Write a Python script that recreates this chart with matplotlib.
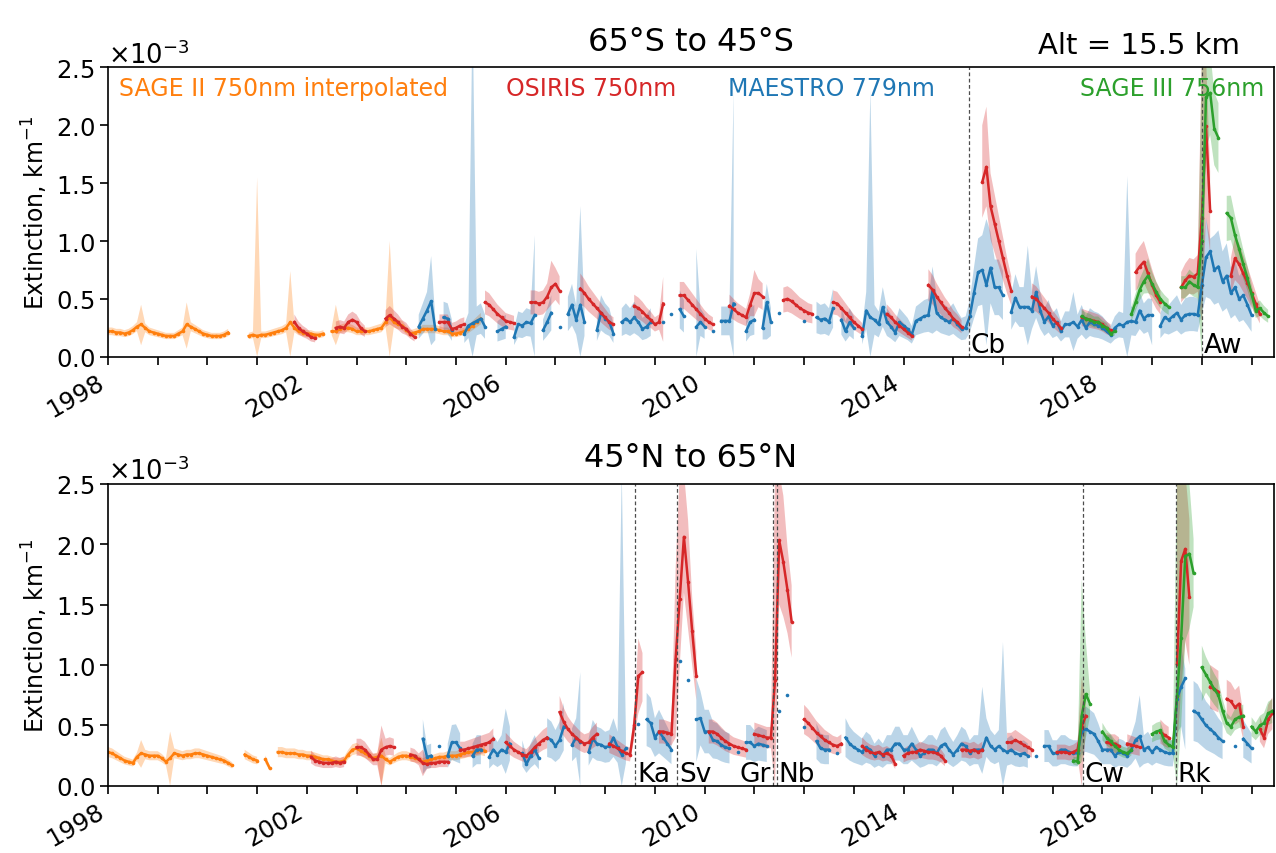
import numpy as np
import matplotlib
matplotlib.use("Agg")
import matplotlib.pyplot as plt
import matplotlib.transforms as mtransforms

nan = np.nan

# ---------------- 65S to 45S (values in 1e-3 km^-1, monthly, one row per year) ----------------
sage2_S_start = 1998
sage2_S = [
    0.22, 0.22, 0.21, 0.21, 0.20, 0.21, 0.23, 0.26, 0.28, 0.25, 0.22, 0.21,
    0.20, 0.19, 0.18, 0.18, 0.18, 0.20, 0.22, 0.28, 0.26, 0.24, 0.22, 0.20,
    0.19, 0.18, 0.18, 0.18, 0.19, 0.21, nan, nan, nan, nan, 0.18, 0.19,
    0.18, 0.19, 0.19, 0.20, 0.21, 0.22, 0.23, 0.25, 0.30, 0.25, 0.22, 0.21,
    0.20, 0.20, 0.19, 0.19, 0.20, nan, 0.22, 0.22, 0.24, 0.25, 0.25, 0.24,
    0.22, 0.22, 0.22, 0.22, 0.23, 0.24, 0.25, 0.30, 0.34, 0.30, 0.28, 0.27,
    0.23, 0.20, 0.21, 0.22, 0.24, 0.24, 0.24, 0.24, 0.23, 0.22, 0.22, 0.20,
    0.20, 0.21, 0.22, 0.24, 0.27, 0.30, 0.33,
]
sage2_S_spikes = {'1998-09': (0.10, 0.45), '1999-08': (0.07, 0.47), '2001-01': (0.0, 1.55),
                  '2001-09': (0.0, 0.74), '2002-08': (0.10, 0.45), '2003-09': (0.0, 1.0)}

osiris_S_start = 2001
osiris_S = [
    nan, nan, nan, nan, nan, nan, nan, nan, nan, 0.30, 0.25, 0.22,
    0.20, 0.17, 0.16, nan, nan, nan, nan, 0.25, 0.26, 0.25, 0.30, 0.32,
    0.30, 0.25, 0.22, nan, nan, nan, nan, 0.33, 0.36, 0.33, 0.30, 0.26,
    0.24, 0.20, 0.17, nan, nan, nan, nan, nan, 0.30, 0.30, 0.30, 0.24,
    0.25, 0.27, 0.28, nan, nan, nan, nan, 0.47, 0.45, 0.41, 0.37, 0.34,
    0.31, 0.30, 0.29, nan, nan, nan, 0.47, 0.47, 0.46, 0.47, 0.52, 0.60,
    0.63, 0.57, nan, nan, nan, nan, 0.59, 0.55, 0.50, 0.46, 0.42, 0.38,
    0.34, 0.30, 0.28, nan, nan, nan, nan, 0.44, 0.42, 0.39, 0.35, 0.32,
    0.28, 0.30, 0.46, nan, nan, nan, 0.53, 0.53, 0.49, 0.45, 0.41, 0.37,
    0.33, 0.30, 0.28, nan, nan, nan, 0.44, 0.41, 0.38, 0.36, 0.34, 0.45,
    0.55, 0.55, 0.52, nan, nan, nan, nan, 0.49, 0.50, 0.48, 0.45, 0.42,
    0.40, 0.38, 0.37, nan, nan, nan, nan, 0.47, 0.46, 0.42, 0.38, 0.34,
    0.30, 0.27, 0.24, nan, nan, nan, nan, nan, 0.37, 0.34, 0.30, 0.27,
    0.24, 0.21, 0.18, nan, nan, nan, 0.62, 0.58, 0.52, 0.47, 0.42, 0.38,
    0.33, 0.30, 0.26, nan, nan, nan, nan, 1.51, 1.64, 1.30, 1.15, 1.00,
    0.85, 0.70, 0.57, nan, nan, nan, nan, 0.52, 0.50, 0.46, 0.42, 0.38,
    0.33, 0.29, 0.25, nan, nan, nan, nan, 0.34, 0.33, 0.32, 0.31, 0.30,
    0.28, 0.25, 0.23, nan, nan, nan, nan, nan, 0.73, 0.78, 0.82, 0.72,
    0.62, 0.53, 0.47, nan, nan, nan, nan, 0.60, 0.66, 0.70, 0.69, 0.72,
    1.20, 1.99, 1.26, nan, nan, nan, nan, 0.70, 0.85, 0.80, 0.72, 0.64,
    0.55, 0.46, 0.37,
]
osiris_S_spikes = {'2006-12': (0.45, 0.83), '2009-03': (0.13, 0.69), '2011-01': (0.35, 0.75),
                   '2015-08': (1.2, 2.0), '2015-09': (1.3, 2.16), '2020-01': (0.3, 2.6),
                   '2020-02': (1.2, 2.6), '2020-03': (0.9, 1.6)}

maestro_S_start = 2004
maestro_S = [
    nan, nan, nan, 0.26, 0.33, 0.40, 0.48, 0.24, nan, 0.34, 0.33, 0.23,
    nan, nan, 0.20, 0.27, 0.29, 0.31, 0.33, 0.26, nan, nan, 0.22, 0.24,
    0.26, nan, 0.17, 0.28, 0.27, 0.30, 0.29, 0.36, nan, 0.23, 0.30, 0.38,
    nan, 0.26, nan, 0.37, 0.45, 0.32, 0.45, 0.30, nan, nan, 0.23, 0.38,
    0.33, 0.30, 0.20, nan, 0.30, 0.33, 0.30, 0.34, 0.30, 0.24, 0.26, 0.30,
    nan, nan, 0.30, nan, 0.37, nan, 0.41, 0.35, nan, nan, 0.26, 0.30,
    0.26, nan, 0.22, nan, 0.31, 0.31, 0.31, 0.46, nan, nan, 0.22, 0.30,
    0.32, nan, 0.25, 0.47, 0.30, nan, 0.38, nan, nan, nan, nan, nan,
    0.31, nan, nan, 0.34, 0.32, 0.33, 0.30, 0.42, nan, 0.32, 0.22, 0.30,
    0.25, nan, 0.18, 0.40, 0.34, 0.32, 0.28, 0.43, 0.30, 0.26, 0.21, 0.30,
    0.27, 0.24, 0.19, 0.31, 0.33, 0.35, 0.36, 0.57, 0.38, 0.34, 0.32, 0.30,
    0.33, 0.28, 0.24, 0.25, 0.35, 0.55, 0.73, 0.75, 0.62, 0.77, 0.60, 0.60,
    0.53, nan, 0.39, 0.51, 0.43, 0.43, 0.43, 0.40, 0.56, 0.40, 0.30, 0.35,
    0.27, 0.30, 0.22, 0.28, 0.28, 0.30, 0.26, 0.32, 0.25, 0.30, 0.28, 0.27,
    0.25, 0.22, 0.19, 0.25, 0.28, 0.27, 0.30, 0.31, 0.30, 0.40, 0.33, 0.36,
    0.36, nan, 0.27, 0.34, 0.32, 0.35, 0.38, 0.32, 0.36, 0.37, 0.37, 0.36,
    0.62, 0.86, 0.91, 0.75, 0.78, 0.65, 0.70, 0.55, 0.60, 0.50, 0.53, 0.45,
    0.36,
]
maestro_S_spikes = {'2004-07': (0.10, 0.87), '2005-05': (0.0, 3.0), '2006-08': (0.0, 1.05),
                    '2007-07': (0.0, 1.30), '2009-11': (0.0, 0.93), '2010-08': (0.0, 2.30),
                    '2011-04': (0.15, 0.63), '2013-05': (0.0, 2.30), '2014-08': (0.20, 0.78),
                    '2015-09': (0.10, 1.19), '2016-07': (0.10, 0.96), '2017-06': (0.05, 0.56),
                    '2018-07': (0.0, 1.56), '2019-01': (0.10, 0.50), '2020-03': (0.50, 1.02)}

sage3_S_start = 2017
sage3_S = [
    nan, nan, nan, nan, nan, nan, nan, 0.35, 0.33, 0.32, 0.30, 0.30,
    0.27, 0.25, 0.20, 0.22, nan, nan, nan, 0.37, 0.47, 0.58, 0.65, 0.70,
    0.63, 0.56, 0.50, 0.46, 0.43, nan, nan, 0.60, 0.60, 0.65, 0.62, 0.60,
    1.00, 2.24, 2.28, 1.97, 1.89, nan, 1.24, 1.20, 1.05, 0.93, 0.80, 0.68,
    0.54, 0.40, 0.42, 0.38, 0.35,
]
sage3_S_spikes = {'2018-12': (0.55, 0.85), '2020-01': (0.0, 2.6), '2020-02': (1.8, 2.6),
                  '2020-07': (1.0, 1.39)}

# ---------------- 45N to 65N ----------------
sage2_N_start = 1998
sage2_N = [
    0.28, 0.27, 0.25, 0.23, 0.21, 0.20, 0.19, 0.24, 0.27, 0.26, 0.25, 0.25,
    0.25, 0.23, 0.20, 0.23, 0.27, 0.26, 0.25, 0.26, 0.26, 0.27, 0.27, 0.26,
    0.25, 0.24, 0.23, 0.22, 0.21, 0.19, 0.17, nan, nan, 0.26, 0.24, 0.22,
    0.21, nan, 0.22, 0.15, nan, 0.28, 0.28, 0.27, 0.27, 0.27, 0.26, 0.26,
    0.25, 0.25, 0.24, 0.23, 0.22, 0.22, 0.21, 0.20, 0.20, 0.21, 0.26, 0.30,
    0.31, 0.29, 0.27, 0.25, 0.23, 0.24, 0.25, 0.22, 0.20, 0.22, 0.24, 0.25,
    0.25, 0.24, 0.23, 0.22, 0.20, 0.21, 0.22, 0.23, 0.24, 0.24, 0.25, 0.25,
    0.25, 0.26, 0.27, 0.28, 0.28, 0.29, 0.30, 0.29,
]
sage2_N_spikes = {'1998-09': (0.15, 0.38), '1999-04': (0.0, 0.45), '2003-07': (0.0, 0.40)}

osiris_N_start = 2002
osiris_N = [
    nan, 0.24, 0.21, 0.20, 0.19, 0.19, 0.19, 0.20, 0.19, 0.20, nan, nan,
    0.32, 0.32, 0.30, 0.26, 0.22, 0.22, 0.30, 0.32, 0.33, 0.32, nan, nan,
    nan, 0.26, 0.25, 0.22, 0.19, 0.18, 0.19, 0.19, 0.20, 0.20, 0.20, nan,
    nan, 0.30, 0.30, 0.31, 0.32, 0.33, 0.34, 0.35, 0.36, 0.39, nan, nan,
    0.36, 0.33, 0.30, 0.28, 0.26, 0.25, 0.28, 0.32, 0.35, 0.38, 0.40, nan,
    nan, 0.61, 0.53, 0.47, 0.43, 0.40, 0.37, 0.35, 0.36, 0.40, 0.43, nan,
    nan, 0.35, 0.33, 0.31, 0.29, 0.27, 0.26, 0.50, 0.91, 0.94, nan, nan,
    nan, 0.45, 0.45, 0.44, 0.43, 1.05, 1.55, 2.06, 1.69, 1.28, 0.91, nan,
    nan, 0.45, 0.45, 0.43, 0.40, 0.37, 0.35, 0.33, 0.32, 0.31, 0.30, nan,
    0.43, 0.42, 0.41, 0.40, 0.40, 0.88, 2.03, 1.85, 1.62, 1.36, nan, nan,
    0.55, 0.52, 0.48, 0.44, 0.41, 0.38, 0.36, 0.34, 0.33, 0.35, nan, nan,
    nan, nan, 0.33, 0.30, 0.28, 0.27, 0.28, 0.26, 0.27, 0.25, 0.18, nan,
    0.25, 0.27, 0.28, 0.28, 0.30, 0.29, 0.28, 0.28, 0.27, 0.25, 0.21, nan,
    nan, nan, 0.30, 0.30, 0.29, 0.30, 0.28, 0.30, nan, nan, nan, nan,
    nan, 0.36, 0.36, 0.38, 0.36, 0.34, 0.32, 0.30, nan, nan, nan, nan,
    nan, 0.28, 0.28, 0.28, 0.27, 0.28, 0.30, 0.49, 0.58, nan, nan, nan,
    nan, 0.36, 0.35, 0.35, 0.33, nan, 0.35, 0.34, 0.33, 0.32, nan, nan,
    nan, nan, 0.45, 0.42, 0.40, nan, 1.01, 1.86, 1.96, 1.56, nan, nan,
    nan, nan, 0.82, 0.80, 0.78, nan, 0.72, 0.70, 0.65, 0.68, 0.49, nan,
    nan, nan, 0.47, 0.40, 0.55, 0.60,
]
osiris_N_spikes = {'2003-07': (0.0, 0.50), '2004-05': (0.08, 0.30), '2008-09': (0.60, 1.22),
                   '2008-10': (0.70, 1.10), '2009-06': (0.40, 1.80), '2009-07': (1.0, 2.6),
                   '2009-08': (1.6, 2.6), '2009-09': (1.3, 2.2), '2011-06': (0.0, 2.6),
                   '2011-07': (1.5, 2.6), '2011-08': (1.4, 2.4), '2017-08': (0.0, 0.90),
                   '2019-07': (0.3, 2.6), '2019-08': (0.8, 2.6), '2019-09': (1.2, 2.6),
                   '2019-10': (1.0, 2.2)}

maestro_N_start = 2004
maestro_N = [
    nan, nan, 0.25, nan, 0.39, 0.24, 0.25, nan, 0.33, nan, 0.25, 0.36,
    0.36, 0.31, nan, nan, 0.25, 0.30, 0.30, nan, 0.24, 0.30, 0.26, 0.30,
    0.28, 0.35, nan, nan, 0.27, 0.18, 0.25, 0.30, 0.23, nan, 0.40, 0.38,
    0.33, 0.38, 0.49, nan, 0.34, 0.40, 0.36, nan, 0.28, 0.39, 0.35, 0.34,
    0.32, 0.33, 0.40, 0.32, 0.26, 0.31, nan, nan, 0.51, nan, 0.55, 0.52,
    0.40, 0.45, 0.40, 0.35, 0.30, nan, 1.03, nan, 0.88, nan, 0.55, 0.56,
    0.45, 0.45, 0.38, 0.37, 0.34, 0.32, 0.31, nan, 0.28, nan, 0.36, 0.36,
    0.33, 0.35, 0.34, 0.33, nan, nan, 0.62, nan, 0.75, nan, nan, nan,
    0.49, nan, nan, 0.37, 0.31, 0.30, 0.30, nan, 0.27, nan, 0.40, 0.35,
    0.32, 0.30, 0.28, 0.32, 0.30, 0.25, 0.28, 0.25, 0.30, 0.30, 0.35, 0.35,
    0.30, 0.30, 0.35, 0.30, 0.25, 0.27, 0.30, 0.30, 0.27, 0.33, 0.35, 0.30,
    0.26, 0.30, 0.35, 0.33, 0.27, 0.30, 0.30, 0.30, 0.40, 0.33, 0.30, 0.33,
    0.30, 0.28, 0.30, 0.27, 0.26, 0.27, 0.25, nan, 0.25, nan, 0.33, 0.33,
    0.27, 0.27, 0.30, 0.30, 0.28, 0.27, 0.27, 0.45, 0.47, 0.45, 0.43, 0.37,
    0.30, 0.30, 0.30, 0.25, 0.28, 0.27, 0.25, 0.30, 0.38, 0.41, 0.30, 0.32,
    0.28, 0.32, 0.30, 0.28, 0.27, 0.27, 0.72, 0.82, 0.89, nan, 0.62, 0.60,
    0.55, 0.50, 0.47, 0.44, 0.40, 0.37, nan, nan, 0.33, nan, 0.39, 0.35,
    0.31,
]
maestro_N_spikes = {'2004-05': (0.10, 0.55), '2005-01': (0.20, 0.51), '2006-01': (0.10, 0.64),
                    '2007-07': (0.0, 0.94), '2008-05': (0.0, 2.6), '2009-11': (0.20, 0.89),
                    '2015-08': (0.10, 0.82), '2016-01': (0.0, 1.19), '2018-10': (0.15, 0.75),
                    '2019-09': (0.30, 0.97)}

sage3_N_start = 2017
sage3_N = [
    nan, nan, nan, nan, nan, 0.21, 0.20, 0.58, 0.76, 0.68, nan, nan,
    0.45, 0.40, 0.37, 0.33, 0.30, 0.28, 0.27, 0.30, nan, nan, nan, nan,
    0.43, 0.45, 0.46, 0.37, 0.34, 0.32, 0.74, 1.22, 1.90, 1.92, 1.76, nan,
    0.98, 0.92, 0.86, 0.80, 0.75, 0.62, 0.52, 0.49, 0.55, 0.57, 0.58, nan,
    0.49, 0.45, 0.50, 0.52, 0.60, 0.62,
]
sage3_N_spikes = {'2017-08': (0.20, 1.71), '2017-09': (0.40, 1.20), '2019-07': (0.0, 2.6),
                  '2019-08': (0.5, 2.6), '2019-09': (1.2, 2.6), '2019-10': (1.3, 2.5),
                  '2020-01': (0.70, 1.16)}

# events
events_S = [('Cb', 2015.31, 'left'), ('Aw', 2020.0, 'left')]
events_N = [('Ka', 2008.60, 'left'), ('Sv', 2009.45, 'left'), ('Gr', 2011.38, 'right'),
            ('Nb', 2011.45, 'left'), ('Cw', 2017.60, 'left'), ('Rk', 2019.47, 'left')]

C_SAGE2 = '#ff7f0e'
C_OSIRIS = '#d62728'
C_MAESTRO = '#1f77b4'
C_SAGE3 = '#2ca02c'

# relative half-widths of the uncertainty bands
REL = {'sage2': 0.15, 'osiris': 0.22, 'maestro': 0.40, 'sage3': 0.16}


def series_arrays(vals, start, rel, spikes):
    v = np.array(vals, dtype=float)
    x = start + np.arange(len(v)) / 12.0
    lo = v * (1 - rel)
    hi = v * (1 + rel)
    for key, (l, h) in spikes.items():
        yy, mm = map(int, key.split('-'))
        i = (yy - start) * 12 + mm - 1
        if 0 <= i < len(v) and not np.isnan(v[i]):
            lo[i] = l
            hi[i] = h
    return x, v, lo, hi


fig = plt.figure(figsize=(12.76, 8.54), dpi=100)
axS = fig.add_axes([0.0846, 0.581, 0.9138, 0.339])
axN = fig.add_axes([0.0846, 0.0785, 0.9138, 0.354])

panels = [
    (axS, [(sage2_S, sage2_S_start, C_SAGE2, 'sage2', sage2_S_spikes),
           (maestro_S, maestro_S_start, C_MAESTRO, 'maestro', maestro_S_spikes),
           (osiris_S, osiris_S_start, C_OSIRIS, 'osiris', osiris_S_spikes),
           (sage3_S, sage3_S_start, C_SAGE3, 'sage3', sage3_S_spikes)], events_S),
    (axN, [(sage2_N, sage2_N_start, C_SAGE2, 'sage2', sage2_N_spikes),
           (maestro_N, maestro_N_start, C_MAESTRO, 'maestro', maestro_N_spikes),
           (osiris_N, osiris_N_start, C_OSIRIS, 'osiris', osiris_N_spikes),
           (sage3_N, sage3_N_start, C_SAGE3, 'sage3', sage3_N_spikes)], events_N),
]

years = list(range(1998, 2022))
for ax, series, events in panels:
    for vals, start, col, key, spikes in series:
        x, v, lo, hi = series_arrays(vals, start, REL[key], spikes)
        ax.fill_between(x, lo * 1e-3, hi * 1e-3, color=col, alpha=0.3, lw=0)
    for vals, start, col, key, spikes in series:
        x, v, lo, hi = series_arrays(vals, start, REL[key], spikes)
        ax.plot(x, v * 1e-3, color=col, lw=1.8, marker='o', ms=2.6, mew=0)
    trans = mtransforms.blended_transform_factory(ax.transData, ax.transAxes)
    for name, xe, side in events:
        ax.axvline(xe, color='0.3', ls=(0, (3, 2)), lw=0.9)
        dx = 0.04 if side == 'left' else -0.04
        ax.text(xe + dx, 0.015, name, transform=trans, ha=side, va='baseline',
                fontsize=19, color='black')
    ax.set_xlim(1998, 2021.45)
    ax.set_ylim(0, 2.5e-3)
    ax.set_yticks(np.arange(0, 2.51e-3, 0.5e-3))
    ax.ticklabel_format(axis='y', style='sci', scilimits=(0, 0), useMathText=True)
    ax.yaxis.get_offset_text().set_fontsize(18.5)
    ax.set_xticks(years)
    ax.set_xticklabels([str(y) if (y - 1998) % 4 == 0 else '' for y in years],
                       rotation=30, ha='right')
    ax.tick_params(labelsize=17.5, length=6, width=1.2)
    for sp in ax.spines.values():
        sp.set_linewidth(1.2)
    ax.set_ylabel('Extinction, km$^{-1}$', fontsize=17)

axS.text(0.5, 1.059, '65°S to 45°S', transform=axS.transAxes, ha='center',
         va='baseline', fontsize=23)
axS.text(0.971, 1.048, 'Alt = 15.5 km', transform=axS.transAxes, ha='right',
         va='baseline', fontsize=21)
axN.text(0.5, 1.058, '45°N to 65°N', transform=axN.transAxes, ha='center',
         va='baseline', fontsize=23)

transS = mtransforms.blended_transform_factory(axS.transData, axS.transAxes)
label_y = 0.93
axS.text(1998.23, label_y, 'SAGE II 750nm interpolated', color=C_SAGE2, fontsize=17,
         transform=transS, va='center', ha='left')
axS.text(2006.0, label_y, 'OSIRIS 750nm', color=C_OSIRIS, fontsize=17,
         transform=transS, va='center', ha='left')
axS.text(2010.47, label_y, 'MAESTRO 779nm', color=C_MAESTRO, fontsize=17,
         transform=transS, va='center', ha='left')
axS.text(2017.55, label_y, 'SAGE III 756nm', color=C_SAGE3, fontsize=17,
         transform=transS, va='center', ha='left')

fig.savefig('out.png', dpi=100)
